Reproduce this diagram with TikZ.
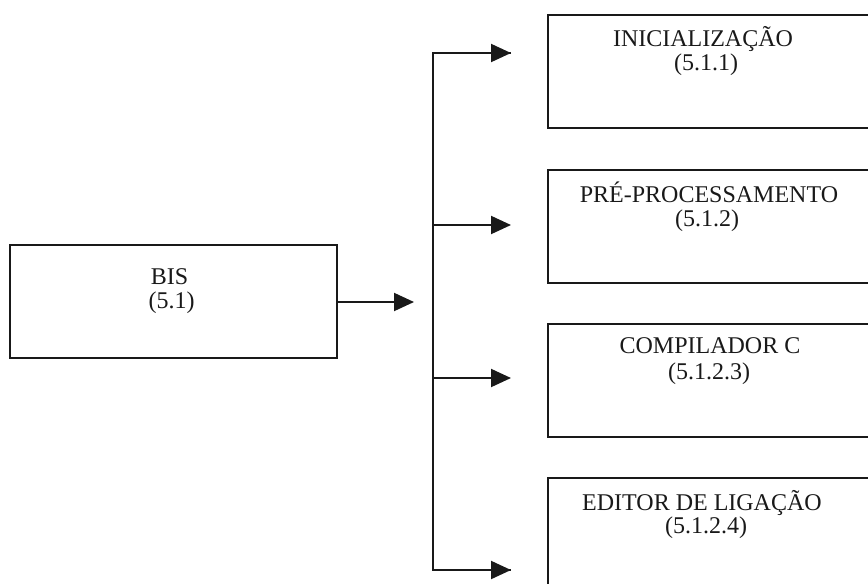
\documentclass[tikz,border=0pt]{standalone}
\usepackage{fontspec}
\setmainfont{Liberation Serif}
\usetikzlibrary{arrows.meta}
\begin{document}
\begin{tikzpicture}[x=1pt,y=-1pt,
  boxnode/.style={draw=black!90,line width=2pt,rectangle,minimum width=327pt,minimum height=113pt,inner sep=0pt},
  rbox/.style={boxnode,minimum width=332pt},
  lbl/.style={anchor=base,inner sep=0pt,font=\fontsize{24}{25}\selectfont,text=black!90},
  conn/.style={line width=2pt,draw=black!90},
  arr/.style={conn,-{Triangle[length=20pt,width=18pt]}}]
\useasboundingbox (0,0) rectangle (868,584);
\clip (0,0) rectangle (868,584);
% left box
\node[boxnode] (b0) at (173.5,301.5) {};
\node[lbl] (t0a) at ([shift={(-4,40)}]b0.north) {BIS};
\node[lbl] (t0b) at ([shift={(-2,64)}]b0.north) {(5.1)};
% right boxes
\node[rbox] (b1) at (714,71.5) {};
\node[rbox] (b2) at (714,226.5) {};
\node[rbox] (b3) at (714,380) {};
\node[rbox] (b4) at (714,534.5) {};
\node[lbl] (t1a) at ([shift={(156,32)}]b1.north west) {INICIALIZAÇÃO};
\node[lbl] (t1b) at ([shift={(159,56)}]b1.north west) {(5.1.1)};
\node[lbl] (t2a) at ([shift={(162,33)}]b2.north west) {PRÉ-PROCESSAMENTO};
\node[lbl] (t2b) at ([shift={(160,57)}]b2.north west) {(5.1.2)};
\node[lbl] (t3a) at ([shift={(163,31)}]b3.north west) {COMPILADOR C};
\node[lbl] (t3b) at ([shift={(162,57)}]b3.north west) {(5.1.2.3)};
\node[lbl] (t4a) at ([shift={(155,33)}]b4.north west) {EDITOR DE LIGAÇÃO};
\node[lbl] (t4b) at ([shift={(159,56)}]b4.north west) {(5.1.2.4)};
% connectors
\coordinate (tip0) at (414,302);
\coordinate (v1) at (433,53);
\coordinate (v2) at (433,225);
\coordinate (v3) at (433,378);
\coordinate (v4) at (433,570);
\coordinate (a1) at (511,53);
\coordinate (a2) at (511,225);
\coordinate (a3) at (511,378);
\coordinate (a4) at (511,570);
\draw[arr] (b0.east |- tip0) -- (tip0);
\draw[conn,line join=miter] (a1) -- (v1) -- (v4) -- (a4);
\draw[arr] (v1) -- (a1);
\draw[arr] (v2) -- (a2);
\draw[arr] (v3) -- (a3);
\draw[arr] (v4) -- (a4);
\end{tikzpicture}
\end{document}
